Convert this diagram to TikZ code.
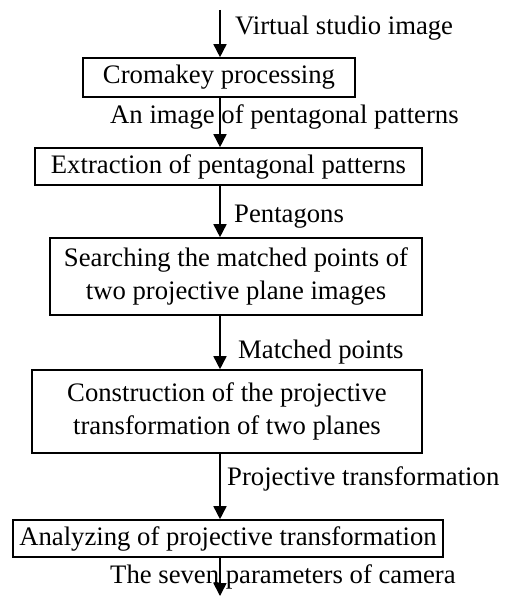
\documentclass[tikz,border=0pt]{standalone}
\usepackage{fontspec}
\setmainfont{Liberation Serif}
\usetikzlibrary{arrows.meta}

\begin{document}
\begin{tikzpicture}[x=1pt,y=-1pt,
  every node/.style={font=\fontsize{26.7}{33}\selectfont},
  stagebox/.style={draw,line width=1.6pt,inner sep=0pt,align=center},
  flow/.style={line width=1.6pt,-{Triangle[width=13pt,length=13pt]}},
  tag/.style={anchor=base west,inner sep=0pt}]
\useasboundingbox (0,0) rectangle (504,596);
% the processing stages
\node[stagebox,minimum width=272pt,minimum height=39pt] (crom) at (219,77.5) {Cromakey processing};
\node[stagebox,minimum width=387pt,minimum height=37pt] (extr) at (228.5,166.5) {Extraction of pentagonal patterns};
\node[stagebox,minimum width=372pt,minimum height=77pt] (srch) at (236,276.5) {Searching the matched points of\\two projective plane images};
\node[stagebox,minimum width=390pt,minimum height=83pt] (cons) at (227,411.5) {Construction of the projective\\transformation of two planes};
\node[stagebox,minimum width=430pt,minimum height=37pt] (anal) at (228,538.5) {Analyzing of projective transformation};
\coordinate (src) at (220,10);
\coordinate (sink) at (220,596);
% data passed between stages
\draw[flow] (src) -- (crom.north -| src);
\draw[flow] (crom.south -| src) -- (extr.north -| src);
\draw[flow] (extr.south -| src) -- (srch.north -| src);
\draw[flow] (srch.south -| src) -- (cons.north -| src);
\draw[flow] (cons.south -| src) -- (anal.north -| src);
\draw[flow] (anal.south -| src) -- (sink);
\node[tag] (vsi) at (235,35) {Virtual studio image};
\node[tag] (aip) at (110,124) {An image of pentagonal patterns};
\node[tag] (pent) at (234,222) {Pentagons};
\node[tag] (mpts) at (238,358) {Matched points};
\node[tag] (ptr) at (227,485) {Projective transformation};
\node[tag] (cam) at (110,583) {The seven parameters of camera};
\end{tikzpicture}
\end{document}
